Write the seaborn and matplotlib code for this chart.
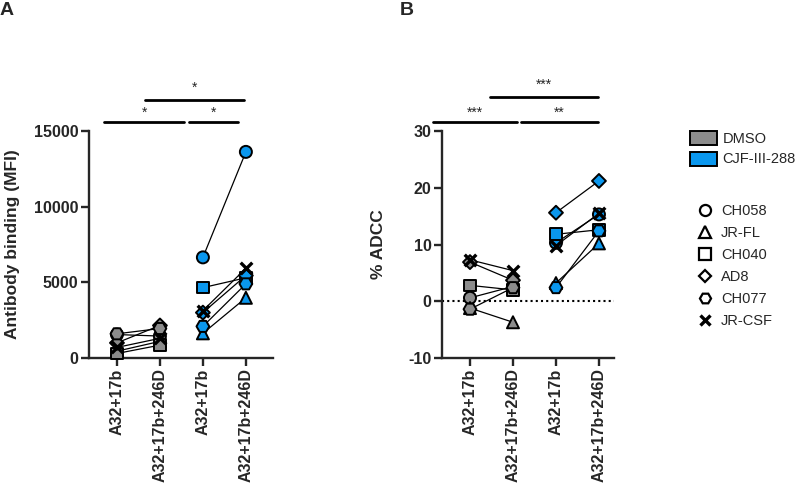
import numpy as np
import pandas as pd
import seaborn as sns
import matplotlib.pyplot as plt
from matplotlib.patches import Patch
from matplotlib.lines import Line2D

strains = ['CH058', 'JR-FL', 'CH040', 'AD8', 'CH077', 'JR-CSF']
conditions = ['A32+17b', 'A32+17b+246D']
treatments = ['DMSO', 'CJF-III-288']

# Antibody binding (MFI), one value per strain
mfi_dmso_17b = [1550, 450, 300, 1000, 1600, 700]
mfi_dmso_246d = [1450, 1100, 850, 2150, 1950, 1300]
mfi_cjf_17b = [6650, 1630, 4650, 3000, 2090, 3130]
mfi_cjf_246d = [13620, 3980, 5300, 5450, 4900, 5930]

# % ADCC, one value per strain
adcc_dmso_17b = [0.6, -1.2, 2.8, 6.9, -1.4, 7.3]
adcc_dmso_246d = [2.6, -3.7, 2.0, 3.7, 2.4, 5.4]
adcc_cjf_17b = [10.3, 3.2, 11.8, 15.6, 2.4, 9.8]
adcc_cjf_246d = [15.3, 10.2, 12.6, 21.2, 12.4, 15.5]

markers = {'CH058': 'o', 'JR-FL': '^', 'CH040': 's', 'AD8': 'D', 'CH077': 'H', 'JR-CSF': 'x'}
sizes = {'CH058': 75, 'JR-FL': 75, 'CH040': 70, 'AD8': 50, 'CH077': 85, 'JR-CSF': 70}
palette = {'DMSO': '#8c8c8c', 'CJF-III-288': '#0a97ee'}


def build_frame(groups):
    rows = []
    for gi, vals in enumerate(groups):
        treat = treatments[gi // 2]
        cond = conditions[gi % 2]
        for s, v in zip(strains, vals):
            rows.append({'strain': s, 'treatment': treat, 'condition': cond,
                         'pos': gi, 'value': v, 'pair': s + '_' + treat})
    return pd.DataFrame(rows)


df_mfi = build_frame([mfi_dmso_17b, mfi_dmso_246d, mfi_cjf_17b, mfi_cjf_246d])
df_adcc = build_frame([adcc_dmso_17b, adcc_dmso_246d, adcc_cjf_17b, adcc_cjf_246d])

sns.set_style('ticks')
plt.rcParams['font.family'] = ['Liberation Sans', 'DejaVu Sans']

fig = plt.figure(figsize=(8, 4.96), dpi=100)
ax_a = fig.add_axes([0.1112, 0.2782, 0.23, 0.4577])
ax_b = fig.add_axes([0.5525, 0.2782, 0.215, 0.4577])


def draw_panel(ax, d):
    sns.lineplot(data=d, x='pos', y='value', units='pair', estimator=None,
                 color='black', lw=0.9, ax=ax, legend=False, sort=False, zorder=2)
    for s in strains:
        sub = d[d.strain == s]
        if markers[s] == 'x':
            sns.scatterplot(data=sub, x='pos', y='value', marker='x', color='black',
                            s=sizes[s], linewidth=2.4, ax=ax, legend=False,
                            zorder=4, clip_on=False)
        else:
            sns.scatterplot(data=sub, x='pos', y='value', hue='treatment', palette=palette,
                            marker=markers[s], s=sizes[s], edgecolor='black',
                            linewidth=1.4, ax=ax, legend=False, zorder=3, clip_on=False)
    ax.set_xticks(range(4))
    ax.set_xticklabels(conditions * 2, rotation=90, fontsize=11.5, fontweight='bold')
    ax.set_xlabel('')
    sns.despine(ax=ax)
    for sp in ['left', 'bottom']:
        ax.spines[sp].set_linewidth(1.7)
    ax.tick_params(width=1.7, length=5.5, pad=2)


def sig(ax, x0, x1, ybar, text, ytext):
    tr = ax.get_xaxis_transform()
    ax.plot([x0, x1], [ybar, ybar], transform=tr, color='black', lw=2, clip_on=False)
    ax.text((x0 + x1) / 2, ytext, text, transform=tr, ha='center', va='center', fontsize=10)


draw_panel(ax_a, df_mfi)
ax_a.set_ylim(0, 15000)
ax_a.set_yticks([0, 5000, 10000, 15000])
ax_a.set_yticklabels(['0', '5000', '10000', '15000'], fontweight='bold', fontsize=11.5)
ax_a.set_xlim(-0.651, 3.63)
ax_a.set_ylabel('Antibody binding (MFI)', fontsize=12.5, fontweight='bold')
ax_a.yaxis.set_label_coords(-0.375, 0.5)
sig(ax_a, -0.3, 1.56, 1.041, '*', 1.079)
sig(ax_a, 1.67, 2.81, 1.041, '*', 1.079)
sig(ax_a, 0.65, 2.95, 1.137, '*', 1.19)

draw_panel(ax_b, df_adcc)
ax_b.set_ylim(-10, 30)
ax_b.set_yticks([-10, 0, 10, 20, 30])
ax_b.set_yticklabels(['-10', '0', '10', '20', '30'], fontweight='bold', fontsize=11.5)
ax_b.set_xlim(-0.651, 3.35)
ax_b.axhline(0, color='black', lw=1.5, ls=(0, (1, 1.5)), zorder=1)
ax_b.set_ylabel('% ADCC', fontsize=12.5, fontweight='bold')
ax_b.yaxis.set_label_coords(-0.326, 0.5)
sig(ax_b, -0.86, 1.09, 1.041, '***', 1.079)
sig(ax_b, 1.19, 2.98, 1.041, '**', 1.079)
sig(ax_b, 0.47, 2.98, 1.151, '***', 1.203)

fig.text(0.0, 0.978, 'A', fontsize=14, fontweight='bold', va='center', ha='left')
fig.text(0.5, 0.978, 'B', fontsize=14, fontweight='bold', va='center', ha='left')

# legends
treat_handles = [Patch(facecolor=palette[t], edgecolor='black', linewidth=1.4, label=t)
                 for t in treatments]
leg1 = fig.legend(handles=treat_handles, loc='upper left', bbox_to_anchor=(0.862, 0.735),
                  frameon=False, fontsize=10.5, handlelength=1.85, handleheight=1.1,
                  handletextpad=0.4, labelspacing=0.35, borderaxespad=0, borderpad=0)
strain_handles = []
for s in strains:
    if markers[s] == 'x':
        strain_handles.append(Line2D([], [], ls='', marker='x', color='black', ms=7,
                                     mew=2.4, label=s))
    else:
        strain_handles.append(Line2D([], [], ls='', marker=markers[s], mfc='white',
                                     mec='black', ms=8 if markers[s] != 'D' else 6.5,
                                     mew=1.6, label=s))
leg2 = fig.legend(handles=strain_handles, loc='upper left', bbox_to_anchor=(0.872, 0.588),
                  frameon=False, fontsize=10.5, handlelength=1.0, handletextpad=0.6,
                  labelspacing=0.55, borderaxespad=0, borderpad=0)

fig.savefig('out.png', dpi=100)
